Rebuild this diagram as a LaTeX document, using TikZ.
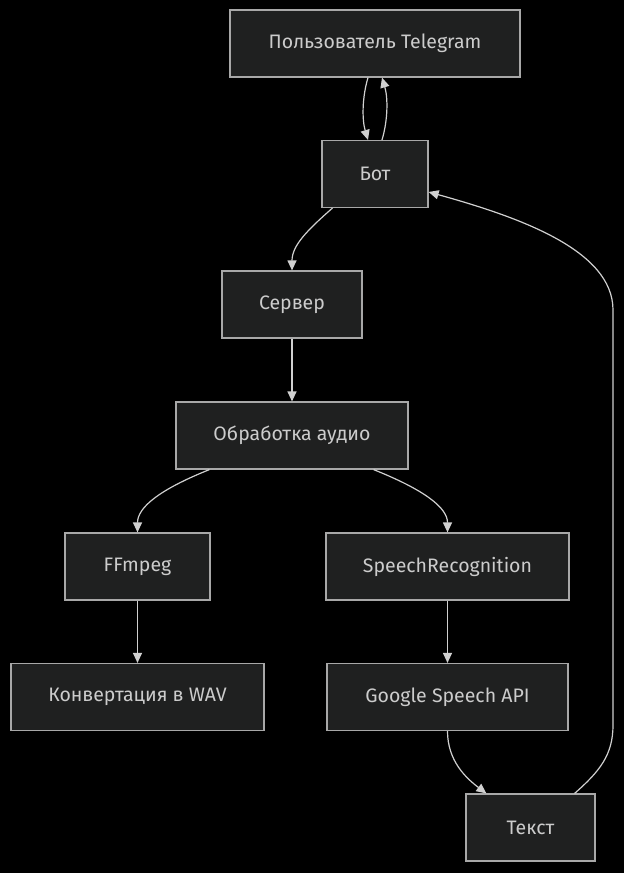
\documentclass[tikz,border=0pt]{standalone}
\usepackage{fontspec}
\setmainfont{Fira Sans}
\usetikzlibrary{arrows.meta,calc}
\definecolor{nodefill}{HTML}{1F2020}
\definecolor{nodeline}{HTML}{A8A8A8}
\definecolor{nodetext}{HTML}{CCCCCC}
\definecolor{edgecol}{HTML}{D0D0D0}
\begin{document}
\begin{tikzpicture}[x=1pt,y=-1pt,
  box/.style={draw=nodeline, fill=nodefill, text=nodetext, line width=1.2pt,
    minimum height=67pt, inner sep=0pt, font=\fontsize{19.5}{23}\selectfont},
  arr/.style={draw=edgecol, line width=1.2pt, -{Triangle[length=10pt,width=9pt]}}]
\fill[black] (0,0) rectangle (624,873);
\useasboundingbox (0,0) rectangle (624,873);
\node[box, minimum width=290pt] (user) at (375,43.5) {Пользователь Telegram};
\node[box, minimum width=106pt] (bot) at (375,174) {Бот};
\node[box, minimum width=140pt] (server) at (292,304.5) {Сервер};
\node[box, minimum width=232pt] (proc) at (292,435.5) {Обработка аудио};
\node[box, minimum width=145pt] (ffmpeg) at (137.5,566.5) {FFmpeg};
\node[box, minimum width=243pt] (sr) at (447.5,566.5) {SpeechRecognition};
\node[box, minimum width=253pt] (wav) at (137.5,697) {Конвертация в WAV};
\node[box, minimum width=241pt] (google) at (447.5,697) {Google Speech API};
\node[box, minimum width=129pt] (text) at (530.5,827.5) {Текст};
\draw[arr] ($(user.south)+(-7,0)$) .. controls +(-6,20) and +(-6,-20) .. ($(bot.north)+(-7,0)$);
\draw[arr] ($(bot.north)+(7,0)$) .. controls +(6,-20) and +(6,20) .. ($(user.south)+(7,0)$);
\draw[arr] ($(bot.south west)+(11,0)$) .. controls +(-25,22) and +(0,-25) .. (server.north);
\draw[arr] (server.south) -- (proc.north);
\draw[arr] ($(proc.south west)+(34,0)$) .. controls +(-50,20) and +(0,-25) .. (ffmpeg.north);
\draw[arr] ($(proc.south east)+(-35,0)$) .. controls +(50,20) and +(0,-25) .. (sr.north);
\draw[arr] (ffmpeg.south) -- (wav.north);
\draw[arr] (sr.south) -- (google.north);
\draw[arr] (google.south) .. controls +(0,30) and +(-20,-15) .. ($(text.north west)+(21,0)$);
\coordinate (c1) at (613,725);
\coordinate (c2) at (613,310);
\draw[arr] ($(text.north east)+(-21,0)$) .. controls +(25,-22) and +(0,30) .. (c1) -- (c2) .. controls +(0,-60) and +(90,25) .. ($(bot.east)+(0,18)$);
\end{tikzpicture}
\end{document}
